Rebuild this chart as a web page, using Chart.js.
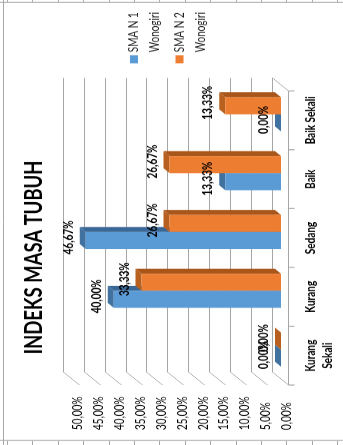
<!DOCTYPE html>
<html>
<head>
<meta charset="utf-8">
<script src="https://cdn.jsdelivr.net/npm/chart.js@4.4.1/dist/chart.umd.min.js"></script>
<style>
  html, body { margin: 0; padding: 0; background: #fff; overflow: hidden; }
  #wrap { position: relative; width: 343px; height: 445px; }
  /* drawn upright and a bit wide, then squeezed and turned a quarter turn left */
  #chart { position: absolute; left: 0; top: 0; transform-origin: 0 0; }
</style>
</head>
<body>
<div id="wrap"><canvas id="chart" height="343"></canvas></div>
<script>
// Chart data
const categories = [["Kurang", "Sekali"], "Kurang", "Sedang", "Baik", "Baik Sekali"];
const seriesNames = [["SMA N 1", "Wonogiri"], ["SMA N 2", "Wonogiri"]];
const sma1Values = [0, 40.00, 46.67, 13.33, 0];
const sma2Values = [0, 33.33, 26.67, 26.67, 13.33];
const valueTicks = [0, 5, 10, 15, 20, 25, 30, 35, 40, 45, 50];

const FONT = "Lato, 'DejaVu Sans', sans-serif";
const K = 1.3; // horizontal squeeze of the whole drawing
const DX = 5 * K, DY = -6; // bar depth

const canvas = document.getElementById("chart");
canvas.width = Math.round(445 * K);
canvas.style.transform = "translate(0, 445px) rotate(-90deg) scale(" + (445 / canvas.width) + ", 1)";

function fmt(v) {
  return v.toFixed(2).replace(".", ",") + "%";
}

function line(ctx, x1, y1, x2, y2) {
  ctx.beginPath();
  ctx.moveTo(x1, y1);
  ctx.lineTo(x2, y2);
  ctx.stroke();
}

function poly(ctx, pts) {
  ctx.beginPath();
  ctx.moveTo(pts[0][0], pts[0][1]);
  pts.slice(1).forEach(p => ctx.lineTo(p[0], p[1]));
  ctx.closePath();
  ctx.fill();
}

// Walls, floor and bar depth faces, drawn behind the bar fronts
const box3d = {
  id: "box3d",
  beforeDatasetsDraw(chart) {
    const { ctx, chartArea: a, scales: { x, y } } = chart;
    ctx.save();
    ctx.strokeStyle = "#a6a6a6";
    ctx.lineWidth = 1;
    valueTicks.forEach(v => {
      const py = Math.round(y.getPixelForValue(v)) + 0.5;
      line(ctx, a.left + 7 * K, py - 9, a.right + 7 * K, py - 9);
      line(ctx, a.left - 6 * K, py + 7, a.left + 7 * K, py - 9);
    });
    const fy = Math.round(a.bottom) + 7.5;
    line(ctx, a.left - 6 * K, fy, a.right - 6 * K, fy);
    line(ctx, a.right - 6 * K, fy, a.right + 7 * K, fy - 16);
    const w = (a.right - a.left) / categories.length;
    ctx.lineWidth = K;
    for (let i = 0; i <= categories.length; i++) {
      const px = x.getPixelForValue(0) - w / 2 + i * w - 6 * K;
      line(ctx, px, fy, px, fy + 6);
    }

    chart.data.datasets.forEach((ds, di) => {
      chart.getDatasetMeta(di).data.forEach(bar => {
        const l = bar.x - bar.width / 2, r = bar.x + bar.width / 2;
        const t = bar.y, b = bar.base;
        ctx.fillStyle = ds.sideColor;
        poly(ctx, [[r, t], [r + DX, t + DY], [r + DX, b + DY], [r, b]]);
        ctx.fillStyle = ds.topColor;
        poly(ctx, [[l, t], [r, t], [r + DX, t + DY], [l + DX, t + DY]]);
      });
    });
    ctx.restore();
  }
};

// Value labels above each bar
const valueLabels = {
  id: "valueLabels",
  afterDatasetsDraw(chart) {
    const { ctx } = chart;
    ctx.save();
    ctx.font = "bold 13px " + FONT;
    ctx.fillStyle = "#000";
    ctx.textAlign = "center";
    ctx.textBaseline = "middle";
    chart.data.datasets.forEach((ds, di) => {
      chart.getDatasetMeta(di).data.forEach((bar, i) => {
        ctx.fillText(fmt(ds.data[i]), bar.x + 3 * K, bar.y - 17);
      });
    });
    ctx.restore();
  }
};

// Legend with two-line names
const sideLegend = {
  id: "sideLegend",
  afterDraw(chart) {
    const { ctx } = chart;
    ctx.save();
    ctx.font = "13px " + FONT;
    ctx.textBaseline = "middle";
    chart.data.datasets.forEach((ds, i) => {
      const top = 130 + i * 45.5;
      ctx.fillStyle = ds.backgroundColor;
      ctx.fillRect(382 * K, top, 8 * K, 8);
      ctx.fillStyle = "#262626";
      ds.label.forEach((t, k) => ctx.fillText(t, 393 * K, top + 4 + k * 21));
    });
    ctx.restore();
  }
};

// Outer frame of the picture
const frame = {
  id: "frame",
  afterDraw(chart) {
    const { ctx, width, height } = chart;
    ctx.save();
    ctx.strokeStyle = "#a8a8a8";
    ctx.lineWidth = K;
    line(ctx, width - 2.5 * K, 0, width - 2.5 * K, height);
    line(ctx, 4.5 * K, 0, 4.5 * K, height);
    ctx.lineWidth = 1;
    line(ctx, 0, 3.5, width, 3.5);
    for (let p = 7; p < height; p += 25.4) {
      const q = Math.round(p) + 0.5;
      line(ctx, width - 2 * K, q, width, q);
      line(ctx, 0, q, 4 * K, q);
    }
    ctx.restore();
  }
};

new Chart(canvas.getContext("2d"), {
  type: "bar",
  data: {
    labels: categories,
    datasets: [
      { label: seriesNames[0], data: sma1Values, backgroundColor: "#5b9bd5", topColor: "#41729f", sideColor: "#3a6796" },
      { label: seriesNames[1], data: sma2Values, backgroundColor: "#ed7d31", topColor: "#b8601f", sideColor: "#a9561b" },
    ],
  },
  options: {
    responsive: false,
    animation: false,
    layout: { padding: { left: 15 * K, right: 85 * K, top: 0, bottom: 0 } },
    datasets: { bar: { categoryPercentage: 0.58, barPercentage: 1 } },
    plugins: {
      legend: { display: false },
      tooltip: { enabled: false },
      title: {
        display: true,
        text: "INDEKS MASA TUBUH",
        color: "#000",
        font: { family: FONT, size: 24, weight: "bold", lineHeight: 1.2 },
        padding: { top: 20, bottom: 23 },
      },
    },
    scales: {
      x: {
        grid: { display: false, drawTicks: false },
        border: { display: false },
        ticks: {
          padding: 22,
          labelOffset: -6 * K,
          maxRotation: 0,
          autoSkip: false,
          color: "#000",
          font: { family: FONT, size: 13, weight: "bold", lineHeight: 1.25 },
        },
        afterFit: s => { s.height = 62; },
      },
      y: {
        min: 0,
        max: 50,
        afterBuildTicks: s => { s.ticks = valueTicks.map(v => ({ value: v })); },
        grid: { display: false, drawTicks: false },
        border: { display: false },
        ticks: {
          callback: v => fmt(v),
          labelOffset: 6,
          crossAlign: "far",
          color: "#000",
          font: { family: FONT, size: 13 },
        },
        afterFit: s => { s.width = 51 * K; },
      },
    },
  },
  plugins: [box3d, valueLabels, sideLegend, frame],
});
</script>
</body>
</html>
